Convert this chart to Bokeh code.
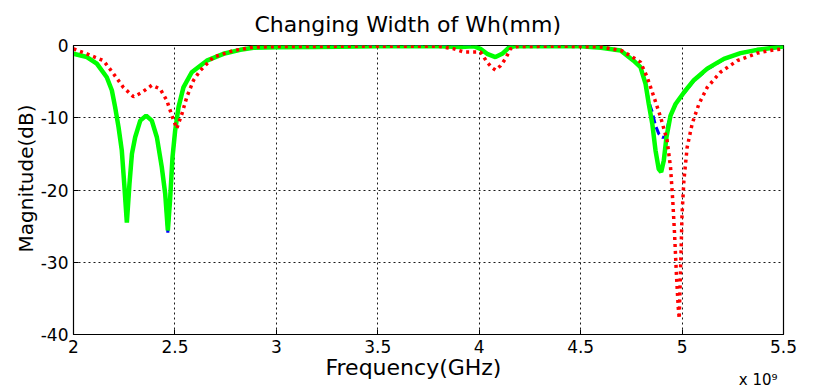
from bokeh.plotting import figure
from bokeh.models import FixedTicker, Range1d, Title
from bokeh.embed import file_html
from bokeh.resources import INLINE

# ---- data (frequency in GHz, magnitude in dB) ----
freq_green = [2.000, 2.066, 2.115, 2.164, 2.189, 2.205, 2.222, 2.238, 2.250, 2.263,
              2.276, 2.288, 2.304, 2.329, 2.358, 2.386, 2.411, 2.435, 2.452, 2.465,
              2.476, 2.488, 2.501, 2.518, 2.542, 2.583, 2.657, 2.739, 2.822, 2.887,
              3.000, 3.200, 3.500, 3.800, 3.908, 3.973, 4.006, 4.039, 4.080, 4.113,
              4.146, 4.179, 4.300, 4.500, 4.600, 4.697, 4.761, 4.795, 4.820, 4.836,
              4.853, 4.869, 4.885, 4.897, 4.910, 4.923, 4.943, 4.968, 5.009, 5.058,
              5.124, 5.206, 5.288, 5.370, 5.452, 5.500]
mag_green = [-1.15, -1.6, -2.5, -4.4, -6.2, -8.5, -11.3, -14.5, -19.1, -24.5,
             -19.1, -15.0, -12.7, -10.4, -9.7, -10.4, -12.7, -16.8, -20.5, -25.6,
             -21.4, -15.5, -11.8, -8.5, -5.8, -3.7, -2.1, -1.15, -0.6, -0.3,
             -0.25, -0.2, -0.1, -0.1, -0.2, -0.1, -0.46, -1.15, -1.6, -1.15,
             -0.3, -0.09, -0.1, -0.1, -0.3, -0.7, -2.1, -3.0, -5.3, -8.1,
             -10.8, -14.5, -17.1, -17.5, -15.9, -12.7, -9.7, -8.1, -6.5, -4.8,
             -3.2, -1.85, -1.06, -0.6, -0.3, -0.14]

freq_blue = [2.000, 2.066, 2.115, 2.164, 2.189, 2.205, 2.222, 2.238, 2.250, 2.263,
             2.276, 2.288, 2.304, 2.329, 2.358, 2.386, 2.411, 2.435, 2.452, 2.465,
             2.476, 2.488, 2.501, 2.518, 2.542, 2.583, 2.657, 2.739, 2.822, 2.887,
             3.000, 3.200, 3.500, 3.800, 3.908, 3.973, 4.006, 4.039, 4.080, 4.113,
             4.146, 4.179, 4.300, 4.500, 4.600, 4.697, 4.761, 4.795, 4.820, 4.836,
             4.853, 4.869, 4.885, 4.902, 4.918, 4.935, 4.951, 4.968, 5.009, 5.058,
             5.124, 5.206, 5.288, 5.370, 5.452, 5.500]
mag_blue = [-1.15, -1.6, -2.5, -4.4, -6.2, -8.5, -11.3, -14.5, -19.1, -24.6,
            -19.1, -15.0, -12.7, -10.4, -9.7, -10.4, -12.7, -16.8, -20.5, -25.9,
            -21.4, -15.5, -11.8, -8.5, -5.8, -3.7, -2.1, -1.15, -0.6, -0.3,
            -0.25, -0.2, -0.1, -0.1, -0.2, -0.1, -0.46, -1.15, -1.6, -1.15,
            -0.3, -0.09, -0.1, -0.1, -0.3, -0.7, -2.1, -3.0, -5.3, -7.8,
            -9.2, -11.1, -12.2, -12.7, -12.7, -10.4, -9.2, -8.1, -6.6, -4.9,
            -3.3, -1.9, -1.06, -0.6, -0.3, -0.14]

freq_red = [2.000, 2.066, 2.148, 2.197, 2.246, 2.296, 2.337, 2.386, 2.427, 2.460,
            2.485, 2.509, 2.534, 2.559, 2.592, 2.624, 2.690, 2.789, 2.887, 3.000,
            3.500, 3.800, 3.875, 3.924, 3.973, 4.006, 4.039, 4.064, 4.080, 4.105,
            4.129, 4.154, 4.187, 4.400, 4.600, 4.700, 4.750, 4.795, 4.828, 4.861,
            4.894, 4.926, 4.943, 4.954, 4.963, 4.972, 4.981, 4.986, 4.992, 5.000,
            5.009, 5.025, 5.050, 5.083, 5.124, 5.189, 5.272, 5.370, 5.452, 5.500]
mag_red = [-0.46, -1.15, -2.1, -3.9, -5.8, -7.1, -6.5, -5.5, -6.0, -7.6,
           -9.7, -11.5, -9.5, -7.1, -4.8, -3.5, -1.6, -0.7, -0.23, -0.15,
           -0.1, -0.1, -0.46, -0.9, -0.9, -0.9, -2.3, -3.1, -3.4, -2.8,
           -1.85, -0.46, -0.14, -0.1, -0.2, -0.7, -1.5, -2.3, -4.4, -7.1,
           -9.9, -13.1, -16.8, -21.4, -26.1, -31.6, -36.2, -37.8, -31.6, -23.3,
           -18.7, -14.1, -10.8, -8.1, -5.8, -3.7, -2.1, -1.06, -0.6, -0.46]

x_ticks = [2.0, 2.5, 3.0, 3.5, 4.0, 4.5, 5.0, 5.5]
x_tick_labels = ["2", "2.5", "3", "3.5", "4", "4.5", "5", "5.5"]
y_ticks = [-40, -30, -20, -10, 0]
y_tick_labels = ["-40", "-30", "-20", "-10", "0"]

FONT = "DejaVu Sans"

p = figure(width=814, height=392, output_backend="svg", toolbar_location=None,
           x_range=Range1d(2.0, 5.5), y_range=Range1d(-40, 0),
           min_border_left=73, min_border_right=31, min_border_top=45,
           min_border_bottom=58, title="Changing Width of Wh(mm)")
p.background_fill_color = "white"
p.border_fill_color = "white"
p.outline_line_color = "black"
p.outline_line_width = 1.2

p.title.text_font = FONT
p.title.text_font_size = "22px"
p.title.text_font_style = "normal"
p.title.align = "left"
p.title.offset = 181
p.title.text_color = "black"
p.title.standoff = 17

# lines
p.line(freq_blue, mag_blue, line_color="#0000ff", line_width=3, line_dash="8 4")
p.line(freq_green, mag_green, line_color="#00ff00", line_width=4.5)
p.line(freq_red, mag_red, line_color="#ff0000", line_width=3.5, line_dash="3 4")

# axes styling
for ax in (p.xaxis[0], p.yaxis[0]):
    ax.axis_line_color = "black"
    ax.major_tick_in = 5
    ax.major_tick_out = 0
    ax.minor_tick_line_color = None
    ax.major_label_text_font = FONT
    ax.major_label_text_font_size = "17px"
    ax.major_label_text_color = "black"

p.xaxis.ticker = FixedTicker(ticks=x_ticks)
p.xaxis.major_label_overrides = dict(zip(x_ticks, x_tick_labels))
p.xaxis.major_label_standoff = 5

p.yaxis.ticker = FixedTicker(ticks=y_ticks)
p.yaxis.major_label_overrides = dict(zip(y_ticks, y_tick_labels))
p.yaxis.major_label_standoff = 5

# axis titles (as offset titles, matching the reference placement)
xlab = Title(text="Frequency(GHz)", align="left", text_font=FONT,
             text_font_size="22px", text_font_style="normal", text_color="black",
             standoff=-5, offset=252)
p.add_layout(xlab, "below")
exp_title = Title(text="x 10\u2079", align="right", text_font=FONT,
                  text_font_size="15px", text_font_style="normal",
                  text_color="black", standoff=-16, offset=6,
                  vertical_align="middle")
p.add_layout(exp_title, "below")
ylab = Title(text="Magnitude(dB)", align="left", text_font=FONT,
             text_font_size="20px", text_font_style="normal", text_color="black",
             standoff=-1, offset=82)
p.add_layout(ylab, "left")

# grid
p.xgrid.ticker = FixedTicker(ticks=x_ticks)
p.ygrid.ticker = FixedTicker(ticks=y_ticks)
for g in (p.xgrid[0], p.ygrid[0]):
    g.grid_line_color = "black"
    g.grid_line_dash = "2 3"
    g.grid_line_width = 1
    g.grid_line_alpha = 0.9

open("out.html", "w").write(file_html(p, INLINE))
